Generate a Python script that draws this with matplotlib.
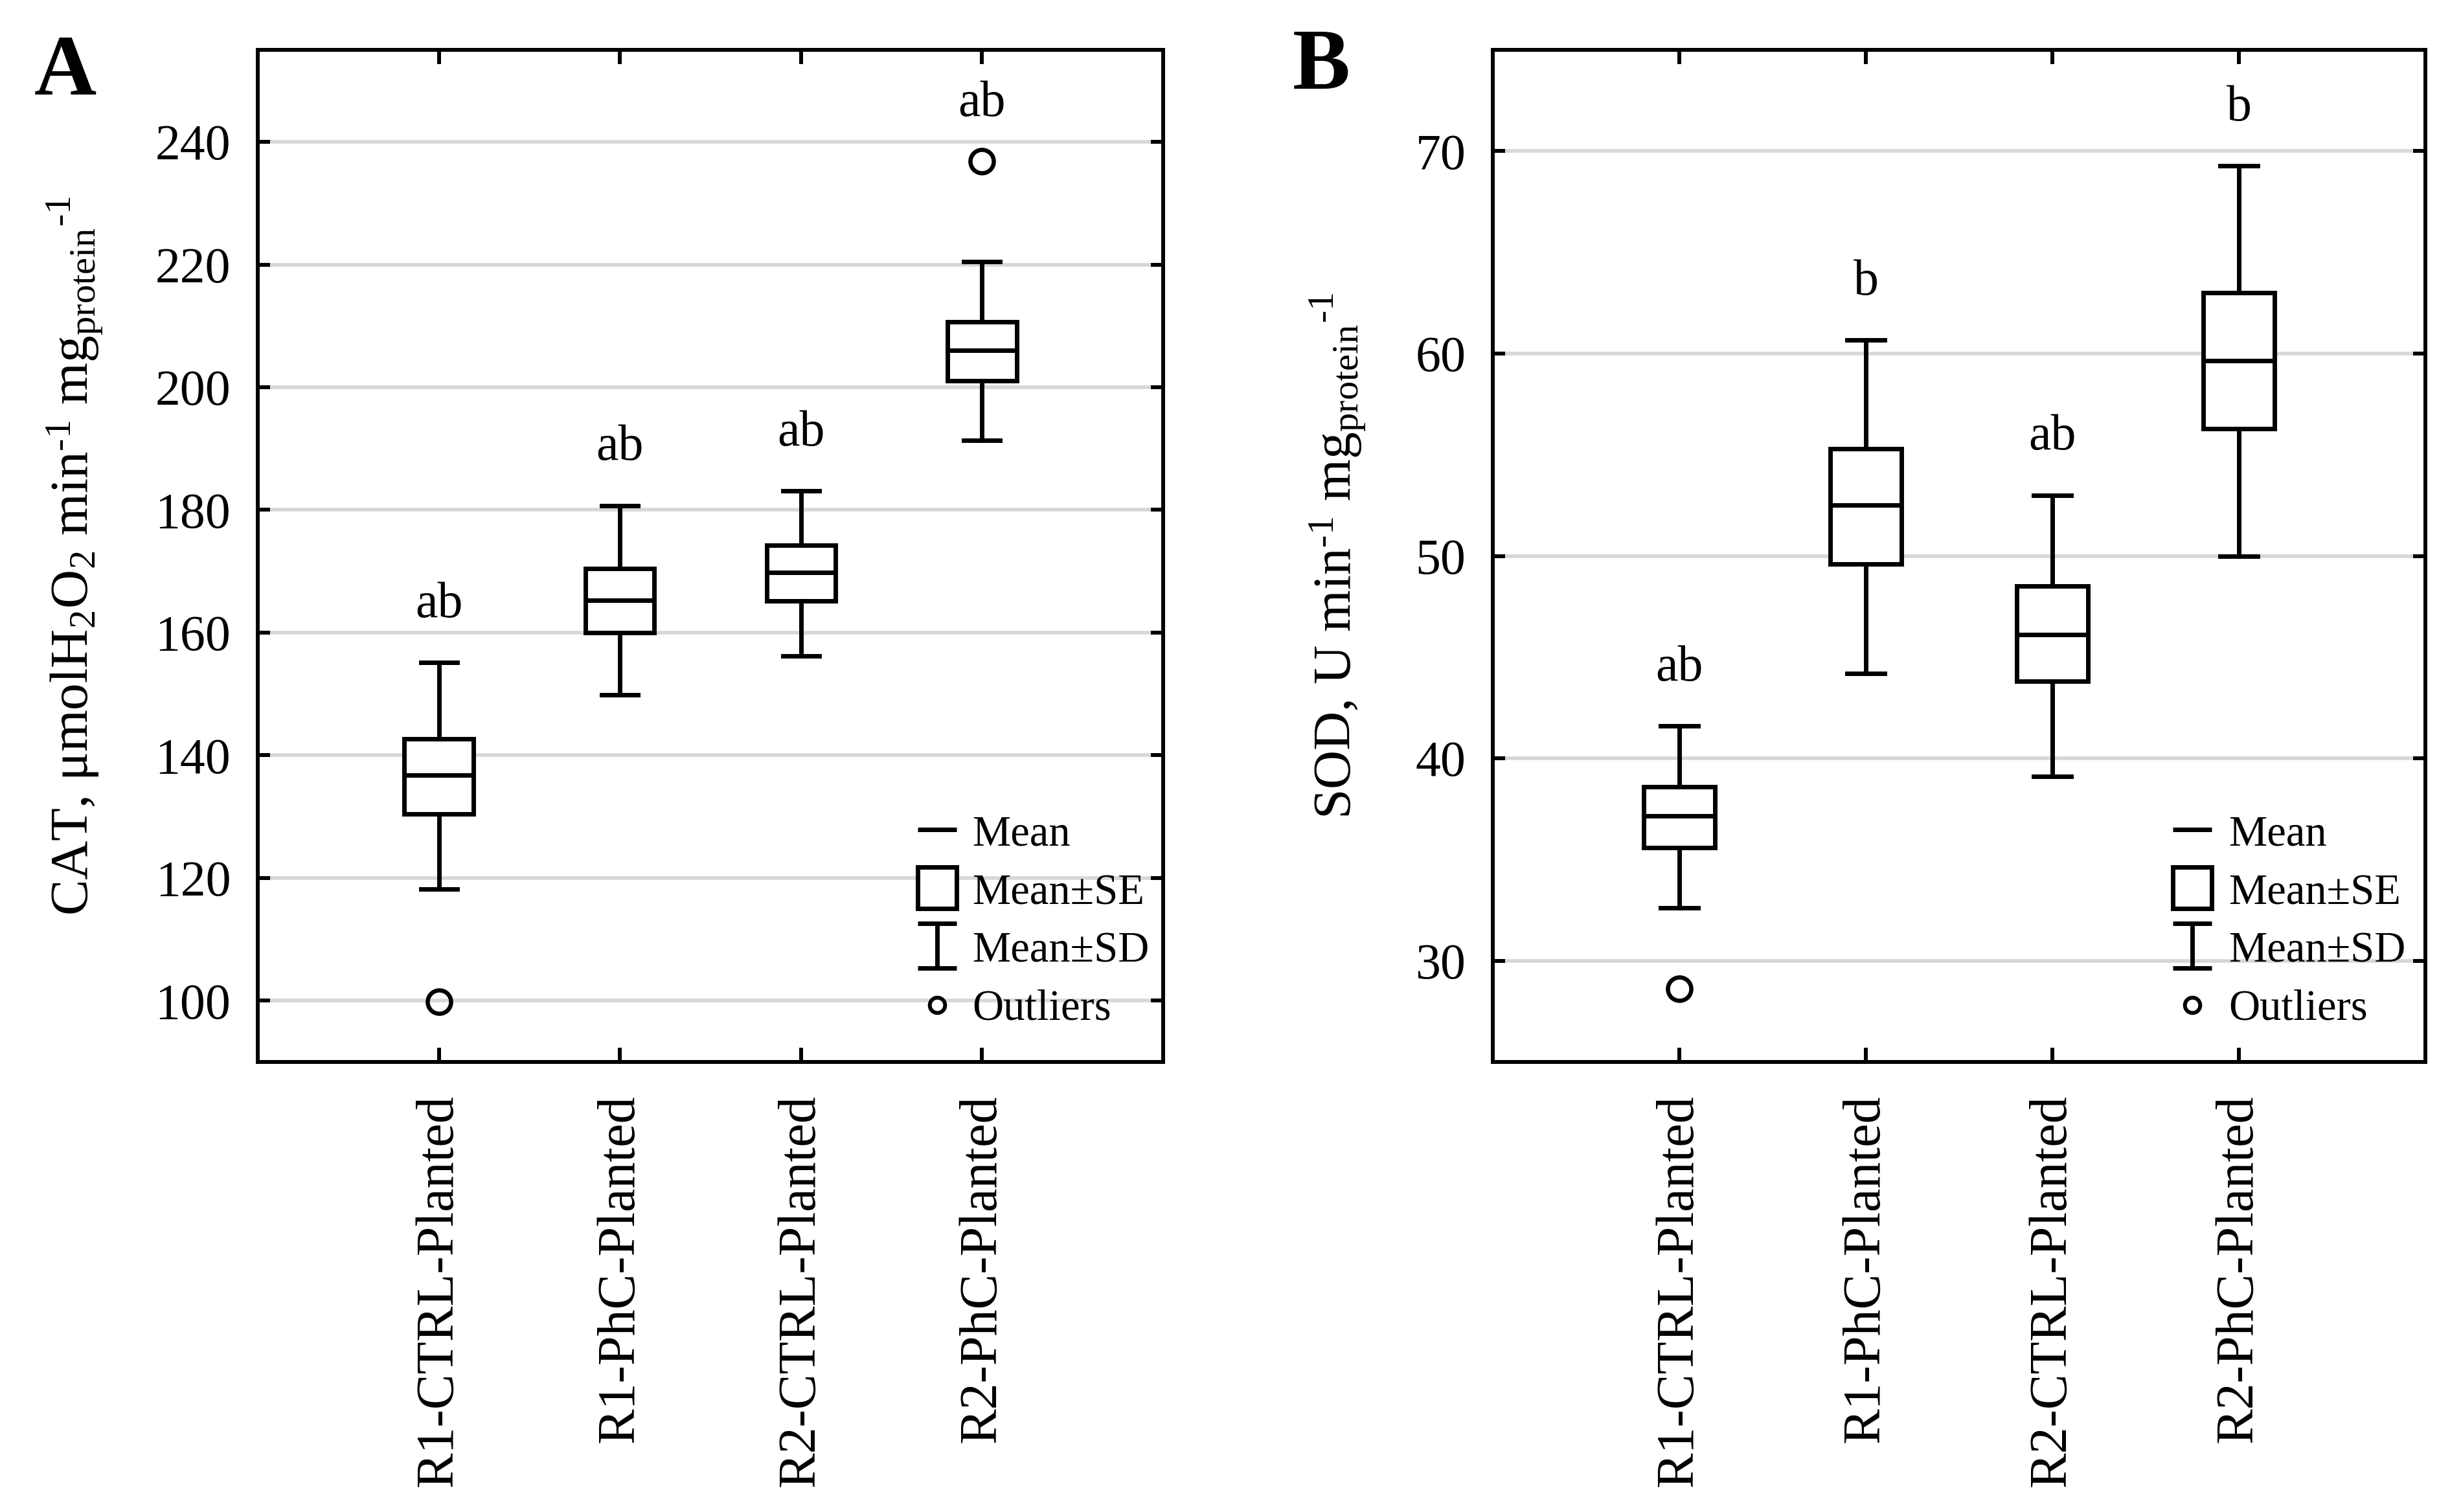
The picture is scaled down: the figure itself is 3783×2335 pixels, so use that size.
import matplotlib
matplotlib.use("Agg")
import matplotlib.pyplot as plt
from matplotlib.patches import Rectangle

plt.rcParams['font.family'] = 'Liberation Serif'
plt.rcParams['mathtext.fontset'] = 'custom'
plt.rcParams['mathtext.rm'] = 'Liberation Serif'
plt.rcParams['mathtext.it'] = 'Liberation Serif:italic'
plt.rcParams['mathtext.default'] = 'regular'

# ---- data ----
groups = ['R1-CTRL-Planted', 'R1-PhC-Planted', 'R2-CTRL-Planted', 'R2-PhC-Planted']

cat_mean = [136.8, 165.3, 169.8, 206.0]
cat_se_low = [130.4, 160.0, 165.2, 201.1]
cat_se_high = [142.7, 170.4, 174.2, 210.7]
cat_sd_low = [118.2, 149.9, 156.2, 191.3]
cat_sd_high = [155.1, 180.7, 183.1, 220.5]
cat_outliers = [[99.8], [], [], [236.8]]
cat_letters = ['ab', 'ab', 'ab', 'ab']
cat_yticks = [100, 120, 140, 160, 180, 200, 220, 240]

sod_mean = [37.15, 52.5, 46.1, 59.65]
sod_se_low = [35.6, 49.6, 43.8, 56.3]
sod_se_high = [38.6, 55.3, 48.5, 63.0]
sod_sd_low = [32.6, 44.2, 39.1, 50.0]
sod_sd_high = [41.6, 60.66, 53.0, 69.27]
sod_outliers = [[28.6], [], [], []]
sod_letters = ['ab', 'b', 'ab', 'b']
sod_yticks = [30, 40, 50, 60, 70]

W, H = 3783, 2335
DPI = 100
LW = 5.0
HY = '\u2010'  # plain hyphen, the source uses "-1" not a minus sign

fig = plt.figure(figsize=(W / DPI, H / DPI), dpi=DPI)
fig.patch.set_facecolor('white')


def px_box(left, right, top, bottom):
    return [left / W, 1 - bottom / H, (right - left) / W, (bottom - top) / H]


def draw_legend(ax, ax_w_px, ax_h_px):
    hx, tx = 0.75, 0.789
    hw = 60 / ax_w_px
    rows = [0.230, 0.172, 0.115, 0.056]
    bases = [0.214, 0.156, 0.099, 0.042]
    kw = dict(transform=ax.transAxes, clip_on=False, color='black',
              lw=LW, solid_capstyle='butt')
    # mean
    ax.plot([hx - hw / 2, hx + hw / 2], [rows[0]] * 2, **kw)
    # mean +- SE
    bh = 64 / ax_h_px
    ax.add_patch(Rectangle((hx - hw / 2, rows[1] - bh / 2), hw, bh,
                           transform=ax.transAxes, facecolor='white',
                           edgecolor='black', lw=LW, clip_on=False, zorder=5))
    # mean +- SD
    sh = 69 / ax_h_px
    ax.plot([hx, hx], [rows[2] - sh / 2, rows[2] + sh / 2], **kw)
    ax.plot([hx - hw / 2, hx + hw / 2], [rows[2] + sh / 2] * 2, **kw)
    ax.plot([hx - hw / 2, hx + hw / 2], [rows[2] - sh / 2] * 2, **kw)
    # outliers
    ax.plot([hx], [rows[3]], marker='o', ms=17, mew=4.3, mfc='white',
            mec='black', transform=ax.transAxes, clip_on=False, ls='none')
    for lab, yb in zip(['Mean', 'Mean\u00b1SE', 'Mean\u00b1SD', 'Outliers'], bases):
        ax.text(tx, yb, lab, transform=ax.transAxes, fontsize=48,
                ha='left', va='baseline')


def panel(box, mean, se_lo, se_hi, sd_lo, sd_hi, outl, letters, yticks,
          ylim, ylabel, ylabel_x, letter, letter_xy):
    ax = fig.add_axes(px_box(*box))
    ax_w_px = box[1] - box[0]
    ax_h_px = box[3] - box[2]
    stats = []
    for i in range(len(groups)):
        stats.append(dict(med=mean[i], q1=se_lo[i], q3=se_hi[i],
                          whislo=sd_lo[i], whishi=sd_hi[i], fliers=outl[i],
                          label=groups[i]))
    pos = list(range(1, len(groups) + 1))
    ax.bxp(stats, positions=pos, widths=0.38, capwidths=0.2,
           patch_artist=True, showfliers=True, manage_ticks=False,
           boxprops=dict(facecolor='white', edgecolor='black', linewidth=LW),
           whiskerprops=dict(color='black', linewidth=LW),
           capprops=dict(color='black', linewidth=LW),
           medianprops=dict(color='black', linewidth=LW),
           flierprops=dict(marker='o', markerfacecolor='none',
                           markeredgecolor='black', markersize=26,
                           markeredgewidth=4.7))
    ax.set_xlim(0, len(groups) + 1)
    ax.set_ylim(*ylim)
    ax.set_xticks(pos)
    ax.set_xticklabels(groups, rotation=90, fontsize=59)
    ax.set_yticks(yticks)
    ax.set_yticklabels([str(t) for t in yticks], fontsize=56)
    ax.tick_params(axis='x', direction='in', length=16, width=4.3, pad=36,
                   top=True, bottom=True)
    ax.tick_params(axis='y', direction='in', length=14, width=4.3, pad=30,
                   left=True, right=True)
    ax.yaxis.grid(True, color='#d7d7d7', linewidth=4.0)
    ax.set_axisbelow(True)
    for sp in ax.spines.values():
        sp.set_linewidth(4.3)

    # significance letters above the highest mark of each group
    rng = ylim[1] - ylim[0]
    for i, let in enumerate(letters):
        top = max([sd_hi[i]] + outl[i])
        ax.text(pos[i], top + 0.045 * rng, let, ha='center', va='baseline',
                fontsize=56)

    draw_legend(ax, ax_w_px, ax_h_px)

    fig.text(ylabel_x / W, 1 - 858 / H, ylabel, rotation=90, ha='center',
             va='center', rotation_mode='anchor', fontsize=60)
    fig.text(letter_xy[0] / W, 1 - letter_xy[1] / H, letter, fontsize=96,
             fontweight='bold', ha='center', va='baseline')
    return ax


panel((398, 1796, 77, 1640), cat_mean, cat_se_low, cat_se_high, cat_sd_low,
      cat_sd_high, cat_outliers, cat_letters, cat_yticks, (90, 255),
      r'CAT, $\mu$molH$_2$O$_2$ min$^{' + HY + r'1}$ mg$_{protein}{}^{' + HY + r'1}$',
      115, 'A', (101, 146))

panel((2305, 3745, 77, 1640), sod_mean, sod_se_low, sod_se_high, sod_sd_low,
      sod_sd_high, sod_outliers, sod_letters, sod_yticks, (25, 75),
      r'SOD, U min$^{' + HY + r'1}$ mg$_{protein}{}^{' + HY + r'1}$',
      2065, 'B', (2040, 137))

fig.savefig('out.png', dpi=DPI, facecolor='white')
